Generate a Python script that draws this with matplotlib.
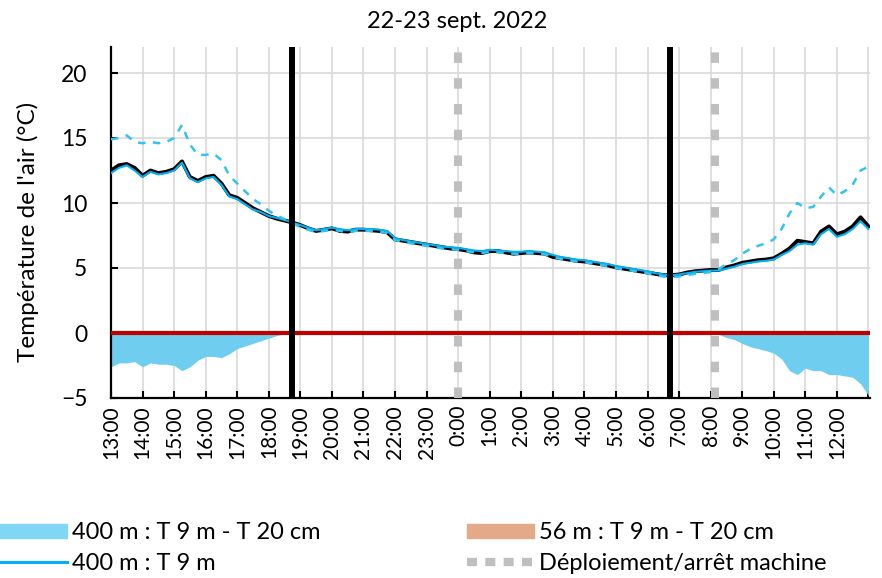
import numpy as np
import matplotlib
matplotlib.use('Agg')
import matplotlib.pyplot as plt
from matplotlib.lines import Line2D
from matplotlib.patches import Patch
from matplotlib import font_manager

# temps en heures depuis le 22 sept. 13:00, un point toutes les 15 min
times = np.arange(97) * 0.25

hour_labels = ['13:00', '14:00', '15:00', '16:00', '17:00', '18:00', '19:00', '20:00',
               '21:00', '22:00', '23:00', '0:00', '1:00', '2:00', '3:00', '4:00',
               '5:00', '6:00', '7:00', '8:00', '9:00', '10:00', '11:00', '12:00']

# 400 m : T 9 m
t9_400 = [12.3, 12.7, 12.9, 12.5, 12.0, 12.4, 12.2, 12.3, 12.5, 13.1, 11.9, 11.6,
          11.9, 12.0, 11.4, 10.5, 10.3, 9.9, 9.5, 9.3, 9.0, 8.85, 8.7, 8.5,
          8.3, 8.1, 7.9, 8.0, 8.1, 8.0, 7.9, 8.0, 8.0, 8.0, 7.95, 7.85,
          7.3, 7.15, 7.05, 6.95, 6.85, 6.75, 6.65, 6.6, 6.55, 6.45, 6.35, 6.3,
          6.4, 6.35, 6.3, 6.25, 6.25, 6.3, 6.25, 6.2, 6.0, 5.85, 5.75, 5.65,
          5.6, 5.5, 5.4, 5.3, 5.15, 5.05, 4.95, 4.85, 4.75, 4.6, 4.5, 4.45,
          4.5, 4.6, 4.7, 4.75, 4.8, 4.8, 4.95, 5.1, 5.3, 5.4, 5.5, 5.55,
          5.65, 6.0, 6.3, 6.8, 6.9, 6.8, 7.6, 8.0, 7.4, 7.6, 8.0, 8.6, 8.0]

# 400 m : T 20 cm (pointillés)
t20_400 = [14.9, 15.0, 15.2, 14.7, 14.6, 14.7, 14.6, 14.7, 15.0, 16.0, 14.5, 13.7,
           13.7, 13.8, 13.3, 12.1, 11.5, 10.9, 10.3, 9.9, 9.4, 9.05, 8.75, 8.45,
           8.15, 7.95, 7.75, 7.85, 7.95, 7.85, 7.75, 7.85, 7.85, 7.85, 7.8, 7.7,
           7.15, 7.0, 6.9, 6.8, 6.7, 6.6, 6.5, 6.45, 6.4, 6.3, 6.2, 6.15,
           6.25, 6.2, 6.15, 6.1, 6.1, 6.15, 6.1, 6.05, 5.85, 5.7, 5.6, 5.5,
           5.45, 5.35, 5.25, 5.15, 5.0, 4.9, 4.8, 4.7, 4.6, 4.45, 4.35, 4.3,
           4.35, 4.45, 4.55, 4.6, 4.7, 4.9, 5.3, 5.6, 6.1, 6.45, 6.7, 6.9,
           7.2, 8.0, 9.2, 10.0, 9.6, 9.7, 10.5, 11.2, 10.6, 10.9, 11.4, 12.5, 12.8]

# courbe noire (autre capteur)
t_black = [12.5, 12.9, 13.0, 12.7, 12.1, 12.5, 12.3, 12.4, 12.6, 13.2, 12.0, 11.7,
           12.0, 12.1, 11.5, 10.6, 10.4, 10.0, 9.6, 9.3, 9.0, 8.8, 8.65, 8.5,
           8.3, 8.05, 7.85, 7.95, 8.05, 7.85, 7.8, 7.95, 7.95, 7.9, 7.85, 7.75,
           7.2, 7.1, 7.0, 6.9, 6.8, 6.7, 6.6, 6.5, 6.45, 6.35, 6.2, 6.15,
           6.3, 6.3, 6.2, 6.1, 6.15, 6.2, 6.15, 6.1, 5.85, 5.75, 5.65, 5.55,
           5.5, 5.4, 5.3, 5.2, 5.05, 4.95, 4.85, 4.75, 4.65, 4.55, 4.45, 4.45,
           4.5, 4.65, 4.75, 4.8, 4.85, 4.85, 5.05, 5.2, 5.4, 5.5, 5.6, 5.65,
           5.75, 6.1, 6.5, 7.1, 7.0, 6.9, 7.8, 8.2, 7.6, 7.8, 8.2, 8.9, 8.2]

# debut / fin de session (noir) et deploiement / arret machine (gris)
session_marks = [5.72, 17.72]
machine_marks = [11.0, 19.15]

diff_400 = np.array(t9_400) - np.array(t20_400)

font_names = {f.name for f in font_manager.fontManager.ttflist}
main_font = 'Lato' if 'Lato' in font_names else 'DejaVu Sans'
plt.rcParams['font.family'] = [main_font, 'DejaVu Sans']

fig = plt.figure(figsize=(8.82, 5.78), dpi=100)
ax = fig.add_axes([111 / 882, 1 - 398 / 578, (870 - 111) / 882, (398 - 47) / 578])

ax.set_xlim(0, 24.05)
ax.set_ylim(-5, 22)
ax.set_xticks(range(25))
ax.set_xticklabels(hour_labels + [''], rotation=90, fontsize=15)
ax.set_yticks([-5, 0, 5, 10, 15, 20])
ax.tick_params(axis='y', labelsize=16.5, direction='in', length=5, width=1.5, pad=17)
ax.tick_params(axis='x', direction='in', length=5, width=1.5, pad=5)
ax.grid(True, color='#d9d9d9', linewidth=1.2, zorder=0)
ax.set_axisbelow(True)
for side in ['top', 'right']:
    ax.spines[side].set_visible(False)
for side in ['left', 'bottom']:
    ax.spines[side].set_linewidth(1.6)

ax.fill_between(times, 0, diff_400, color='#6fcdf0', linewidth=0, zorder=2)
ax.axhline(0, color='#c00000', linewidth=3, zorder=3)

for m in machine_marks:
    ax.axvline(m, color='#bfbfbf', linewidth=5.8, linestyle=(0, (1.3, 1.9)),
               dash_capstyle='butt', zorder=3)
for m in session_marks:
    ax.axvline(m, color='black', linewidth=4.3, zorder=6)

ax.plot(times, t_black, color='black', linewidth=2.8, zorder=4)
ax.plot(times, t9_400, color='#00b0f0', linewidth=1.5, zorder=5)
ax.plot(times, t20_400, color='#33c3f0', linewidth=1.8, linestyle=(0, (3, 3)), zorder=5)

fig.text(457 / 882, 1 - 21 / 578, '22-23 sept. 2022', ha='center', va='center', fontsize=17)
fig.text(28 / 882, 0.598, "Température de l'air (°C)", rotation=90, ha='center', va='center',
         fontsize=17.5)

legend_prop = {'family': [main_font, 'DejaVu Sans'], 'size': 17}
left_handles = [Patch(color='#7fd6f5'), Line2D([], [], color='#00b0f0', linewidth=2.2)]
left_labels = ['400 m : T 9 m - T 20 cm', '400 m : T 9 m']
right_handles = [Patch(color='#e2aa87'),
                 Line2D([], [], color='#bfbfbf', linewidth=6, linestyle=(0, (1.2, 1.0)),
                        dash_capstyle='butt')]
right_labels = ['56 m : T 9 m - T 20 cm', 'Déploiement/arrêt machine']

leg_kw = dict(loc='upper left', frameon=False, prop=legend_prop, handlelength=2.85,
              handleheight=0.55, handletextpad=0.2, labelspacing=0.42, borderaxespad=0,
              borderpad=0)
fig.legend(left_handles, left_labels, bbox_to_anchor=(0.0, 1 - 522 / 578), **leg_kw)
fig.legend(right_handles, right_labels, bbox_to_anchor=(467 / 882, 1 - 522 / 578), **leg_kw)

fig.savefig('out.png', dpi=100)
